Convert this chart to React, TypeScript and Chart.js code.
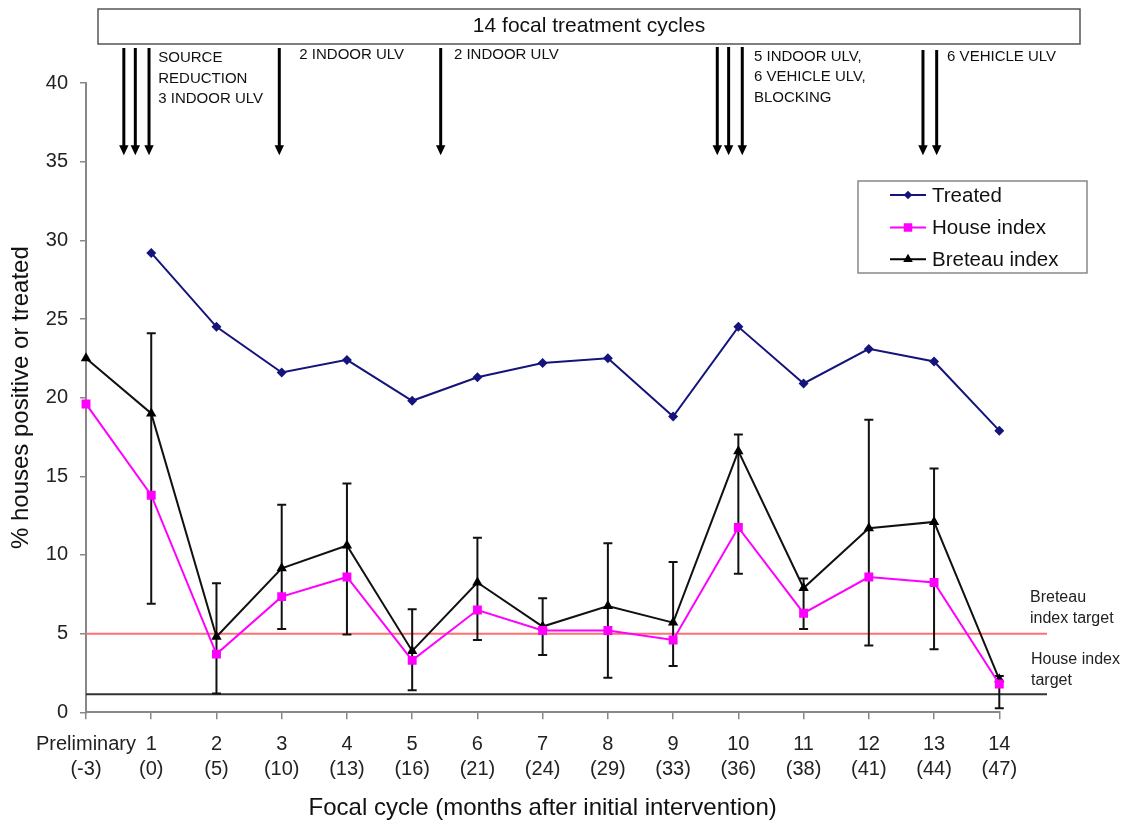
import React, { useEffect, useRef } from 'react';
import { Chart, registerables } from 'chart.js';

Chart.register(...registerables);

const cycleLabels: string[][] = [
  ['Preliminary', '(-3)'], ['1', '(0)'], ['2', '(5)'], ['3', '(10)'], ['4', '(13)'],
  ['5', '(16)'], ['6', '(21)'], ['7', '(24)'], ['8', '(29)'], ['9', '(33)'],
  ['10', '(36)'], ['11', '(38)'], ['12', '(41)'], ['13', '(44)'], ['14', '(47)'],
];

const treated = [null, 29.2, 24.5, 21.6, 22.4, 19.8, 21.3, 22.2, 22.5, 18.8, 24.5, 20.9, 23.1, 22.3, 17.9];
const houseIndex = [19.6, 13.8, 3.7, 7.35, 8.6, 3.3, 6.5, 5.2, 5.2, 4.6, 11.75, 6.3, 8.6, 8.25, 1.8];
const breteauIndex = [22.5, 19.0, 4.8, 9.15, 10.6, 3.9, 8.25, 5.45, 6.75, 5.7, 16.6, 7.9, 11.7, 12.1, 2.1];
const errHigh = [null, 24.1, 8.2, 13.2, 14.55, 6.55, 11.1, 7.25, 10.75, 9.55, 17.65, 8.5, 18.6, 15.5, 2.3];
const errLow = [null, 6.9, 1.2, 5.3, 4.95, 1.4, 4.6, 3.65, 2.2, 2.95, 8.8, 5.3, 4.25, 4.0, 0.25];

const breteauTarget = 5;
const houseTarget = 1.15;

const yTicks = [0, 5, 10, 15, 20, 25, 30, 35, 40];

const topBoxText = '14 focal treatment cycles';
const arrowsAt = [0.58, 0.756, 0.966, 2.963, 5.437, 9.677, 9.851, 10.06, 12.83, 13.04];
const arrowTopY = [48, 48, 48, 48, 48, 47, 47, 47, 50, 50];
const arrowTipValue = 35.4;
const noteAt = [1.108, 3.27, 5.64, 10.24, 13.2];
const noteLines = [
  ['SOURCE', 'REDUCTION', '3 INDOOR ULV'],
  ['2 INDOOR ULV'],
  ['2 INDOOR ULV'],
  ['5 INDOOR ULV,', '6 VEHICLE ULV,', 'BLOCKING'],
  ['6 VEHICLE ULV'],
];
const noteFirstY = [58.3, 55, 55, 56.7, 56.7];

const legendNames = ['Treated', 'House index', 'Breteau index'];
const FONT = "'Liberation Sans', Arial, sans-serif";
const NAVY = '#14147c';
const MAGENTA = '#ff00ff';

function drawMarker(ctx: CanvasRenderingContext2D, style: string, r: number, cx: number, cy: number, color: string) {
  ctx.save();
  ctx.fillStyle = color;
  ctx.beginPath();
  if (style === 'rect') {
    const s = r * Math.SQRT1_2;
    ctx.rect(cx - s, cy - s, 2 * s, 2 * s);
  } else if (style === 'rectRot') {
    const s = r;
    ctx.moveTo(cx - s, cy);
    ctx.lineTo(cx, cy + s);
    ctx.lineTo(cx + s, cy);
    ctx.lineTo(cx, cy - s);
    ctx.closePath();
  } else {
    ctx.moveTo(cx, cy - r);
    ctx.lineTo(cx + r * 0.866, cy + r * 0.5);
    ctx.lineTo(cx - r * 0.866, cy + r * 0.5);
    ctx.closePath();
  }
  ctx.fill();
  ctx.restore();
}

const overlayPlugin = {
  id: 'overlay',
  beforeDatasetsDraw(chart: any) {
    const { ctx, chartArea, scales } = chart;
    const x = scales.x;
    const y = scales.y;
    ctx.save();
    const lineRight = 1047;
    ctx.lineWidth = 2;
    ctx.strokeStyle = '#ff7070';
    ctx.beginPath();
    ctx.moveTo(chartArea.left, y.getPixelForValue(breteauTarget));
    ctx.lineTo(lineRight, y.getPixelForValue(breteauTarget));
    ctx.stroke();
    ctx.strokeStyle = '#333';
    ctx.beginPath();
    ctx.moveTo(chartArea.left, y.getPixelForValue(houseTarget));
    ctx.lineTo(lineRight, y.getPixelForValue(houseTarget));
    ctx.stroke();
    ctx.fillStyle = '#222';
    ctx.font = `16px ${FONT}`;
    ctx.textAlign = 'left';
    ctx.textBaseline = 'middle';
    ctx.fillText('Breteau', 1030, 597.7);
    ctx.fillText('index target', 1030, 618.3);
    ctx.fillText('House index', 1031, 660);
    ctx.fillText('target', 1031, 680.5);
    ctx.strokeStyle = '#111';
    ctx.lineWidth = 2;
    for (let i = 0; i < errHigh.length; i++) {
      const hi = errHigh[i];
      const lo = errLow[i];
      if (hi == null || lo == null) continue;
      const px = x.getPixelForValue(i);
      const py1 = y.getPixelForValue(hi);
      const py2 = y.getPixelForValue(lo);
      ctx.beginPath();
      ctx.moveTo(px, py1);
      ctx.lineTo(px, py2);
      ctx.moveTo(px - 4.5, py1);
      ctx.lineTo(px + 4.5, py1);
      ctx.moveTo(px - 4.5, py2);
      ctx.lineTo(px + 4.5, py2);
      ctx.stroke();
    }
    ctx.restore();
  },
  afterDraw(chart: any) {
    const { ctx, scales } = chart;
    const x = scales.x;
    const y = scales.y;
    ctx.save();
    ctx.fillStyle = '#fff';
    ctx.fillRect(98, 9, 982, 35);
    ctx.strokeStyle = '#555';
    ctx.lineWidth = 1.5;
    ctx.strokeRect(98, 9, 982, 35);
    ctx.fillStyle = '#111';
    ctx.font = `21px ${FONT}`;
    ctx.textAlign = 'center';
    ctx.textBaseline = 'middle';
    ctx.fillText(topBoxText, 589, 26.5);
    const tipY = y.getPixelForValue(arrowTipValue);
    ctx.strokeStyle = '#000';
    ctx.fillStyle = '#000';
    for (let i = 0; i < arrowsAt.length; i++) {
      const px = x.getPixelForValue(arrowsAt[i]);
      ctx.lineWidth = 3;
      ctx.beginPath();
      ctx.moveTo(px, arrowTopY[i]);
      ctx.lineTo(px, tipY - 8);
      ctx.stroke();
      ctx.beginPath();
      ctx.moveTo(px - 4.7, tipY - 10);
      ctx.lineTo(px + 4.7, tipY - 10);
      ctx.lineTo(px, tipY);
      ctx.closePath();
      ctx.fill();
    }
    ctx.font = `15px ${FONT}`;
    ctx.textAlign = 'left';
    ctx.fillStyle = '#111';
    for (let i = 0; i < noteAt.length; i++) {
      const px = x.getPixelForValue(noteAt[i]);
      noteLines[i].forEach((t, j) => ctx.fillText(t, px, noteFirstY[i] + j * 20.5));
    }
    ctx.fillStyle = '#fff';
    ctx.fillRect(858, 181, 229, 92);
    ctx.strokeStyle = '#888';
    ctx.lineWidth = 1.5;
    ctx.strokeRect(858, 181, 229, 92);
    const rows = [195, 227.5, 259.3];
    const colors = [NAVY, MAGENTA, '#000'];
    const styles = ['rectRot', 'rect', 'triangle'];
    const radii = [4.3, 6, 5.5];
    ctx.font = `20.5px ${FONT}`;
    ctx.textBaseline = 'middle';
    for (let i = 0; i < 3; i++) {
      ctx.strokeStyle = colors[i];
      ctx.lineWidth = 2;
      ctx.beginPath();
      ctx.moveTo(890, rows[i]);
      ctx.lineTo(926, rows[i]);
      ctx.stroke();
      drawMarker(ctx, styles[i], radii[i], 908, rows[i], colors[i]);
      ctx.fillStyle = '#111';
      ctx.fillText(legendNames[i], 932, rows[i] + 1);
    }
    ctx.restore();
  },
};

export default function App() {
  const ref = useRef<HTMLCanvasElement | null>(null);
  useEffect(() => {
    document.body.style.margin = '0';
    const canvas = ref.current!;
    const chart = new Chart(canvas, {
      type: 'line',
      data: {
        labels: cycleLabels,
        datasets: [
          {
            label: legendNames[0],
            data: treated,
            borderColor: NAVY,
            backgroundColor: NAVY,
            borderWidth: 2,
            pointStyle: 'rectRot',
            pointRadius: 5,
            pointBorderWidth: 0,
            tension: 0,
            spanGaps: false,
          },
          {
            label: legendNames[1],
            data: houseIndex,
            borderColor: MAGENTA,
            backgroundColor: MAGENTA,
            borderWidth: 2,
            pointStyle: 'rect',
            pointRadius: 6.3,
            pointBorderWidth: 0,
            tension: 0,
          },
          {
            label: legendNames[2],
            data: breteauIndex,
            borderColor: '#111',
            backgroundColor: '#000',
            borderWidth: 2,
            pointStyle: 'triangle',
            pointRadius: 6,
            pointBorderWidth: 0,
            tension: 0,
          },
        ],
      },
      options: {
        responsive: false,
        animation: false,
        devicePixelRatio: 1,
        layout: { padding: { top: 83, right: 128.7, left: 0, bottom: 0 } },
        plugins: { legend: { display: false }, tooltip: { enabled: false } },
        scales: {
          x: {
            type: 'category',
            offset: false,
            grid: { display: true, drawOnChartArea: false, drawTicks: true, tickLength: 7, color: '#888', lineWidth: 1.5 },
            border: { display: true, color: '#888', width: 2 },
            ticks: { font: { family: FONT, size: 20, lineHeight: 1.25 }, color: '#222', padding: 13, maxRotation: 0, autoSkip: false },
            title: {
              display: true,
              text: 'Focal cycle (months after initial intervention)',
              font: { family: FONT, size: 24, lineHeight: 1.2 },
              color: '#111',
              padding: { top: 0, bottom: 1.6 },
            },
            afterFit: (s: any) => { s.height = 824 - 712.3; },
          },
          y: {
            min: 0,
            max: 40,
            afterBuildTicks: (s: any) => { s.ticks = yTicks.map((v) => ({ value: v })); },
            grid: { display: true, drawOnChartArea: false, drawTicks: true, tickLength: 6, color: '#888', lineWidth: 1.5 },
            border: { display: true, color: '#888', width: 2 },
            ticks: { font: { family: FONT, size: 20 }, color: '#222', padding: 12 },
            title: {
              display: true,
              text: '% houses positive or treated',
              font: { family: FONT, size: 24, lineHeight: 1.2 },
              color: '#111',
              padding: { top: 6.6, bottom: 0 },
            },
            afterFit: (s: any) => { s.width = 86; },
          },
        },
      },
      plugins: [overlayPlugin],
    });
    return () => chart.destroy();
  }, []);
  return <canvas ref={ref} width={1128} height={824} style={{ display: 'block' }} />;
}
